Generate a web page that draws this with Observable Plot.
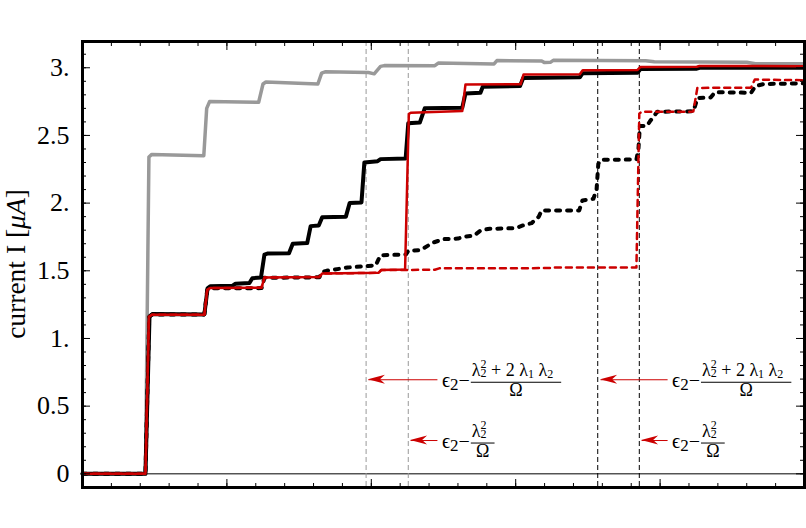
<!DOCTYPE html>
<html>
<head>
<meta charset="utf-8">
<script src="https://cdn.jsdelivr.net/npm/d3@7"></script>
<script src="https://cdn.jsdelivr.net/npm/@observablehq/plot@0.6"></script>
<style>
  html, body { margin: 0; padding: 0; background: #fff; }
  svg { display: block; }
</style>
</head>
<body>
<div id="chart"></div>
<script>
// ---------- data ----------
const yTicks = [0, 0.5, 1, 1.5, 2, 2.5, 3];
const yTickLabels = ["0", "0.5", "1.", "1.5", "2.", "2.5", "3."];
const xMajorTicks = [0, 5, 10, 15, 20, 25];

const grayX = [0, 2.18, 2.30, 2.40, 4.20, 4.30, 4.40, 6.10, 6.25, 6.35, 8.15, 8.28, 8.40, 9.9, 10.10, 10.32, 10.45, 12.20, 12.32, 13.78, 14.25, 14.35, 15.90, 16.00, 16.20, 16.30, 19.50, 19.80, 23.00, 23.30, 25];
const grayY = [0, 0, 2.34, 2.36, 2.35, 2.70, 2.75, 2.745, 2.88, 2.895, 2.88, 2.96, 2.97, 2.965, 2.955, 3.01, 3.016, 3.015, 3.035, 3.03, 3.028, 3.053, 3.05, 3.038, 3.04, 3.055, 3.052, 3.045, 3.04, 3.03, 3.03];

const blackX = [0, 2.18, 2.32, 2.42, 4.22, 4.33, 4.42, 5.20, 5.30, 5.78, 5.88, 6.18, 6.30, 6.40, 7.15, 7.28, 7.78, 7.90, 8.18, 8.30, 9.12, 9.25, 9.66, 9.76, 10.22, 10.32, 11.19, 11.28, 11.68, 11.85, 13.15, 13.26, 13.78, 13.86, 15.15, 15.26, 17.22, 17.32, 19.22, 19.32, 21.27, 21.36, 25];
const blackY = [0, 0, 1.16, 1.18, 1.178, 1.37, 1.385, 1.39, 1.405, 1.41, 1.445, 1.45, 1.62, 1.627, 1.63, 1.70, 1.705, 1.83, 1.835, 1.895, 1.90, 2.0, 2.005, 2.30, 2.31, 2.325, 2.33, 2.59, 2.595, 2.70, 2.705, 2.81, 2.815, 2.86, 2.865, 2.925, 2.93, 2.96, 2.963, 2.99, 2.993, 3.0, 3.0];

const redX = [0, 2.18, 2.30, 2.40, 4.22, 4.32, 4.42, 6.20, 6.30, 8.20, 8.30, 10.25, 10.34, 11.17, 11.30, 11.38, 13.15, 13.26, 15.17, 15.27, 17.22, 17.32, 19.22, 19.32, 21.27, 21.36, 25];
const redY = [0, 0, 1.16, 1.175, 1.175, 1.36, 1.372, 1.375, 1.45, 1.455, 1.48, 1.485, 1.505, 1.51, 2.66, 2.668, 2.68, 2.876, 2.878, 2.95, 2.952, 2.982, 2.984, 3.006, 3.008, 3.013, 3.012];

const blackDashX = [0, 2.18, 2.31, 2.41, 4.22, 4.32, 4.42, 6.20, 6.30, 8.20, 8.30, 8.45, 9.18, 9.90, 10.15, 10.32, 11.20, 11.28, 11.70, 12.15, 12.50, 13.00, 13.20, 13.55, 13.80, 14.10, 15.00, 15.25, 15.55, 15.80, 15.90, 17.20, 17.31, 17.69, 17.80, 17.86, 17.95, 19.18, 19.25, 19.30, 19.55, 19.65, 19.90, 21.15, 21.30, 21.75, 21.90, 23.15, 23.30, 23.60, 25];
const blackDashY = [0, 0, 1.16, 1.178, 1.178, 1.36, 1.37, 1.372, 1.448, 1.452, 1.49, 1.50, 1.524, 1.536, 1.54, 1.615, 1.62, 1.648, 1.653, 1.709, 1.734, 1.738, 1.751, 1.76, 1.80, 1.81, 1.815, 1.835, 1.852, 1.90, 1.946, 1.946, 2.02, 2.032, 2.10, 2.29, 2.32, 2.322, 2.40, 2.57, 2.57, 2.605, 2.675, 2.678, 2.777, 2.78, 2.82, 2.815, 2.865, 2.88, 2.885];

const redDashX = [0, 2.18, 2.30, 2.40, 4.22, 4.32, 4.42, 6.20, 6.30, 8.20, 8.30, 10.25, 10.34, 12.20, 12.35, 16.20, 16.30, 19.18, 19.28, 19.35, 21.15, 21.29, 23.15, 23.28, 25];
const redDashY = [0, 0, 1.16, 1.175, 1.175, 1.36, 1.372, 1.375, 1.45, 1.455, 1.48, 1.485, 1.505, 1.508, 1.518, 1.52, 1.524, 1.524, 2.66, 2.674, 2.676, 2.851, 2.853, 2.913, 2.908];

const grayMarkers = [9.82, 11.28];
const blackMarkers = [17.84, 19.28];

// annotations: arrow tip, arrow tail (label start), height, kind
const arrowTipX = [9.90, 11.36, 17.94, 19.36];
const arrowTailX = [12.29, 12.29, 20.26, 20.26];
const arrowYv = [0.695, 0.246, 0.695, 0.246];
const arrowKind = ["long", "short", "long", "short"];

// ---------- chart ----------
const W = 806, H = 528, mL = 82, mR = 2, mT = 41, mB = 41;
const plotW = W - mL - mR, plotH = H - mT - mB;
const xMinor = d3.range(0, 26, 1);
const yMinor = d3.range(0, 32).map(i => +(i * 0.1).toFixed(1));
const pts = (xs, ys) => xs.map((x, i) => ({x, y: ys[i]}));
const RED = "#cc0000";
const FONT = "Liberation Serif, DejaVu Serif, serif";

const svg = Plot.plot({
  width: W, height: H,
  marginLeft: mL, marginRight: mR, marginTop: mT, marginBottom: mB,
  x: {domain: [0, 25], axis: null},
  y: {domain: [-0.101, 3.194], axis: null},
  style: {fontFamily: FONT, background: "#fff", overflow: "visible"},
  marks: [
    Plot.ruleY([0], {stroke: "#000", strokeWidth: 1}),
    Plot.ruleX(grayMarkers, {stroke: "#999", strokeWidth: 1, strokeDasharray: "5,3"}),
    Plot.ruleX(blackMarkers, {stroke: "#000", strokeWidth: 1, strokeDasharray: "5,3"}),
    Plot.line(pts(grayX, grayY), {x: "x", y: "y", stroke: "#999", strokeWidth: 3.5, strokeLinejoin: "round"}),
    Plot.line(pts(blackX, blackY), {x: "x", y: "y", stroke: "#000", strokeWidth: 4, strokeLinejoin: "round"}),
    Plot.line(pts(blackDashX, blackDashY), {x: "x", y: "y", stroke: "#000", strokeWidth: 4, strokeDasharray: "4,7", strokeLinecap: "round", strokeLinejoin: "round"}),
    Plot.line(pts(redX, redY), {x: "x", y: "y", stroke: RED, strokeWidth: 2.5, strokeLinejoin: "round"}),
    Plot.line(pts(redDashX, redDashY), {x: "x", y: "y", stroke: RED, strokeWidth: 2.5, strokeDasharray: "6,5", strokeLinejoin: "round"}),
    // arrow shafts
    Plot.link(arrowTipX, {x1: d => d, x2: (d, i) => arrowTailX[i], y1: (d, i) => arrowYv[i], y2: (d, i) => arrowYv[i], stroke: RED, strokeWidth: 1}),
    // ticks (inward)
    Plot.ruleX(xMinor, {x: d => d, stroke: "#000", strokeWidth: 1, insetTop: plotH - 4}),
    Plot.ruleX(xMajorTicks, {x: d => d, stroke: "#000", strokeWidth: 1, insetTop: plotH - 8}),
    Plot.ruleX(xMinor, {x: d => d, stroke: "#000", strokeWidth: 1, insetBottom: plotH - 5}),
    Plot.ruleX(xMajorTicks, {x: d => d, stroke: "#000", strokeWidth: 1, insetBottom: plotH - 9}),
    Plot.ruleY(yMinor, {y: d => d, stroke: "#000", strokeWidth: 1, insetRight: plotW - 4}),
    Plot.ruleY(yTicks, {y: d => d, stroke: "#000", strokeWidth: 1, insetRight: plotW - 8}),
    Plot.ruleY(yMinor, {y: d => d, stroke: "#000", strokeWidth: 1, insetLeft: plotW - 4}),
    Plot.ruleY(yTicks, {y: d => d, stroke: "#000", strokeWidth: 1, insetLeft: plotW - 8}),
    Plot.frame({stroke: "#000", strokeWidth: 3}),
    Plot.text(yTicks, {y: d => d, frameAnchor: "left", text: (d, i) => yTickLabels[i], textAnchor: "end", dx: -13, fontSize: 26, fontFamily: "Liberation Serif, serif", fill: "#000"})
  ]
});
document.getElementById("chart").appendChild(svg);

const sx = svg.scale("x"), sy = svg.scale("y");
const root = d3.select(svg);

// y-axis label
root.append("text")
  .attr("transform", `translate(24.5,${mT + plotH / 2}) rotate(-90)`)
  .attr("text-anchor", "middle")
  .attr("font-family", FONT)
  .attr("font-size", 27.5)
  .attr("fill", "#000")
  .html('current I [<tspan font-style="italic">μA</tspan>]');

// annotations
arrowTipX.forEach((tx, i) => {
  const x0 = sx.apply(tx), y0 = sy.apply(arrowYv[i]);
  root.append("path")
    .attr("d", `M${x0},${y0} L${x0 + 17},${y0 - 4.5} L${x0 + 12},${y0} L${x0 + 17},${y0 + 4.5} Z`)
    .attr("fill", RED);
  const g = root.append("g")
    .attr("transform", `translate(${sx.apply(arrowTailX[i]) + 5},${y0 + 3})`)
    .attr("font-family", FONT).attr("fill", "#000").attr("text-anchor", "start");
  const lead = g.append("text").attr("x", 0).attr("y", 5).attr("font-size", 20).attr("text-anchor", "start")
    .html('ϵ<tspan font-size="17" dy="3">2</tspan><tspan dy="-3">−</tspan>');
  const fx = lead.node().getComputedTextLength() + 1;
  const num = g.append("text").attr("x", fx + 1).attr("y", -6).attr("font-size", 18).attr("text-anchor", "start");
  if (arrowKind[i] === "long") {
    num.html('λ<tspan font-size="12" dy="1">2</tspan><tspan font-size="12" dx="-6" dy="-9.5">2</tspan><tspan dy="8.5"> + 2 λ</tspan><tspan font-size="12" dy="2">1</tspan><tspan dy="-2"> λ</tspan><tspan font-size="12" dy="2">2</tspan>');
  } else {
    num.html('λ<tspan font-size="12" dy="1">2</tspan><tspan font-size="12" dx="-6" dy="-9.5">2</tspan>');
  }
  const nw = num.node().getComputedTextLength();
  const bw = nw + 3;
  g.append("line").attr("x1", fx).attr("x2", fx + bw).attr("y1", 0).attr("y2", 0)
    .attr("stroke", "#000").attr("stroke-width", 1);
  g.append("text").attr("x", fx + bw / 2).attr("y", 14).attr("font-size", 18)
    .attr("text-anchor", "middle").text("Ω");
});
</script>
</body>
</html>
